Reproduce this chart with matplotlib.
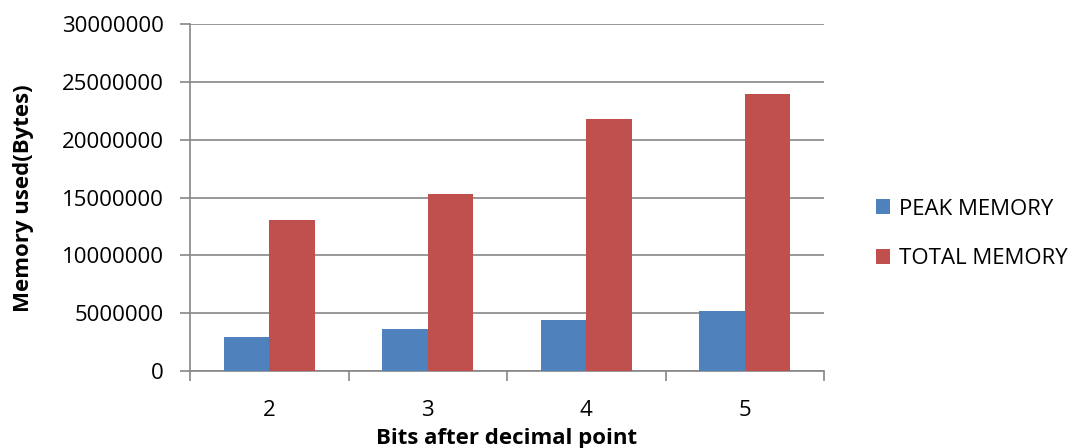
import matplotlib.pyplot as plt
import numpy as np
from matplotlib.ticker import FixedLocator

plt.rcParams['font.family'] = ['Open Sans', 'DejaVu Sans']

categories = ["2", "3", "4", "5"]
peak_memory = [2910000, 3660000, 4410000, 5160000]
total_memory = [13060000, 15280000, 21770000, 23930000]
series_names = ["PEAK MEMORY", "TOTAL MEMORY"]
y_ticks = [0, 5000000, 10000000, 15000000, 20000000, 25000000, 30000000]

blue = "#4F81BD"
red = "#C0504D"
grid_c = "#868686"

fig = plt.figure(figsize=(10.78, 4.48), dpi=100)
ax = fig.add_axes([0.1763, 0.1719, 0.5881, 0.7739])

x = np.arange(len(categories))
w = 0.286
ax.bar(x - w/2, peak_memory, w, color=blue, label=series_names[0], zorder=3)
ax.bar(x + w/2, total_memory, w, color=red, label=series_names[1], zorder=3)

ax.set_xlim(-0.5, len(categories) - 0.5)
ax.set_ylim(0, 30000000)
ax.set_yticks(y_ticks)
ax.set_yticklabels([str(v) for v in y_ticks], fontsize=16)
ax.yaxis.grid(True, color=grid_c, linewidth=1.2, zorder=0)

ax.set_xticks(x)
ax.set_xticklabels(categories, fontsize=16)
ax.xaxis.set_minor_locator(FixedLocator(np.arange(len(categories) + 1) - 0.5))
ax.tick_params(axis="x", which="major", length=0, pad=21)
ax.tick_params(axis="x", which="minor", length=7, width=1.2, color=grid_c, direction="out")
ax.tick_params(axis="y", length=7, width=1.2, color=grid_c, pad=12)

for s in ["top", "right"]:
    ax.spines[s].set_visible(False)
for s in ["left", "bottom"]:
    ax.spines[s].set_color(grid_c)
    ax.spines[s].set_linewidth(1.2)

ax.set_ylabel("Memory used(Bytes)", fontsize=16, fontweight="bold")
ax.yaxis.set_label_coords(-0.263, 0.4976)
ax.yaxis.label.set_va("center")
ax.set_xlabel("Bits after decimal point", fontsize=16, fontweight="bold")
ax.xaxis.set_label_coords(0.5, -0.163)

ax.legend(loc="center left", bbox_to_anchor=(1.05, 0.395), frameon=False, fontsize=16,
          handlelength=0.65, handleheight=0.65, handletextpad=0.4, labelspacing=1.3)

plt.savefig("out.png", facecolor="white")
